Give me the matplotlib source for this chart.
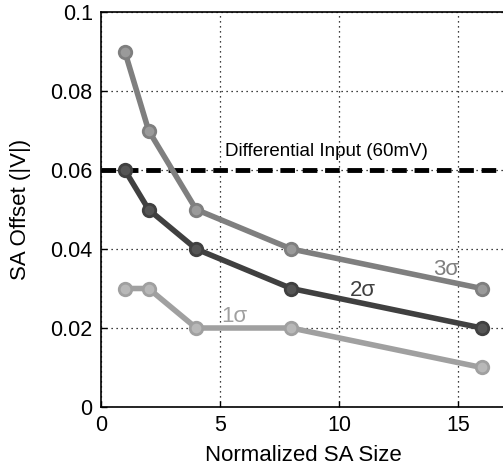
import matplotlib
matplotlib.use("Agg")
import matplotlib.pyplot as plt

sizes = [1, 2, 4, 8, 16]
sigma3 = [0.09, 0.07, 0.05, 0.04, 0.03]
sigma2 = [0.06, 0.05, 0.04, 0.03, 0.02]
sigma1 = [0.03, 0.03, 0.02, 0.02, 0.01]
diff_input = 0.06
xticks = [0, 5, 10, 15]
yticks = [0, 0.02, 0.04, 0.06, 0.08, 0.1]
ytick_labels = ["0", "0.02", "0.04", "0.06", "0.08", "0.1"]

plt.rcParams['font.family'] = ['Liberation Sans', 'DejaVu Sans']

fig = plt.figure(figsize=(5.03, 4.69), dpi=100)
ax = fig.add_axes([0.2008, 0.1322, 0.8042, 0.8422])

ax.grid(True, linestyle=(0, (1, 3)), color='black', linewidth=0.9)
ax.set_axisbelow(True)

ax.axhline(diff_input, color='black', linestyle=(0, (3, 1.6)), linewidth=3.5, zorder=2)

styles = [(sigma3, '#7f7f7f', '#9a9a9a'), (sigma2, '#404040', '#555555'), (sigma1, '#a0a0a0', '#b8b8b8')]
for vals, c, fc in styles:
    ax.plot(sizes, vals, color=c, linewidth=4, zorder=3)
    ax.plot(sizes, vals, linestyle='none', marker='o', markersize=9,
            markerfacecolor=fc, markeredgecolor=c, markeredgewidth=2, zorder=4)

ax.text(5.2, 0.0647, 'Differential Input (60mV)', fontsize=13.5, color='black', va='center', ha='left')
ax.text(14.5, 0.0347, '3σ', fontsize=16, color='#7f7f7f', ha='center', va='center')
ax.text(11.0, 0.0294, '2σ', fontsize=16, color='#404040', ha='center', va='center')
ax.text(5.6, 0.0230, '1σ', fontsize=16, color='#a0a0a0', ha='center', va='center')

ax.set_xlim(0, 17)
ax.set_ylim(0, 0.1)
ax.set_xticks(xticks)
ax.set_yticks(yticks)
ax.set_yticklabels(ytick_labels)
ax.tick_params(direction='in', labelsize=15.5, length=4, width=1, pad=6)
for s in ax.spines.values():
    s.set_linewidth(1.2)

ax.set_xlabel('Normalized SA Size', fontsize=16, labelpad=6)
ax.set_ylabel('SA Offset (|V|)', fontsize=16, labelpad=14)

fig.savefig('out.png', dpi=100)
